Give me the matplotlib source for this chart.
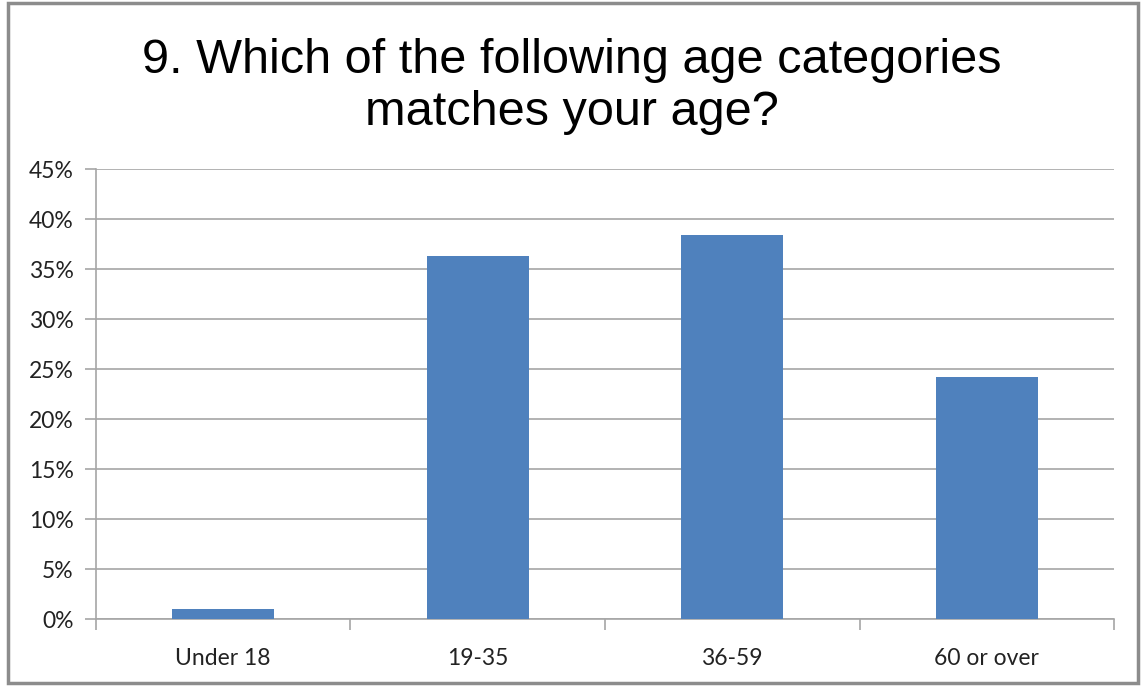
import matplotlib.pyplot as plt
from matplotlib.patches import Rectangle

categories = ['Under 18', '19-35', '36-59', '60 or over']
values = [1.0, 36.3, 38.4, 24.2]
yticks = [0, 5, 10, 15, 20, 25, 30, 35, 40, 45]
title = '9. Which of the following age categories\nmatches your age?'

fig = plt.figure(figsize=(11.44, 6.86), dpi=100)
ax = fig.add_axes([0.0839, 0.0972, 0.8899, 0.6558])

x = list(range(len(categories)))
ax.bar(x, values, width=0.4, color='#4F81BD', zorder=3)

ax.set_xlim(-0.5, len(categories) - 0.5)
ax.set_ylim(0, 45)
ax.set_yticks(yticks)
ax.set_yticklabels([f'{v}%' for v in yticks], fontsize=16.5, family='Lato', color='#222222')
ax.set_xticks(x)
ax.set_xticklabels(categories, fontsize=16.5, family='Lato', color='#222222')
ax.grid(axis='y', color='#A6A6A6', linewidth=1.2, zorder=0)

for s in ['top', 'right']:
    ax.spines[s].set_visible(False)
for s in ['left', 'bottom']:
    ax.spines[s].set_color('#A6A6A6')
    ax.spines[s].set_linewidth(1.2)

ax.tick_params(axis='y', length=8, width=1.2, color='#A6A6A6', pad=8)
ax.tick_params(axis='x', length=0, pad=21)
# category boundary ticks on x axis
ax.set_xticks([i - 0.5 for i in range(len(categories) + 1)], minor=True)
ax.tick_params(axis='x', which='minor', length=8, width=1.2, color='#A6A6A6')

fig.text(0.5, 0.874, title, ha='center', va='center', fontsize=35,
         family='Liberation Sans', linespacing=1.2)

fig.patches.append(Rectangle((0.007, 0.005), 0.988, 0.99, transform=fig.transFigure,
                             fill=False, edgecolor='#8C8C8C', linewidth=2.5))

fig.savefig('out.png', dpi=100)
